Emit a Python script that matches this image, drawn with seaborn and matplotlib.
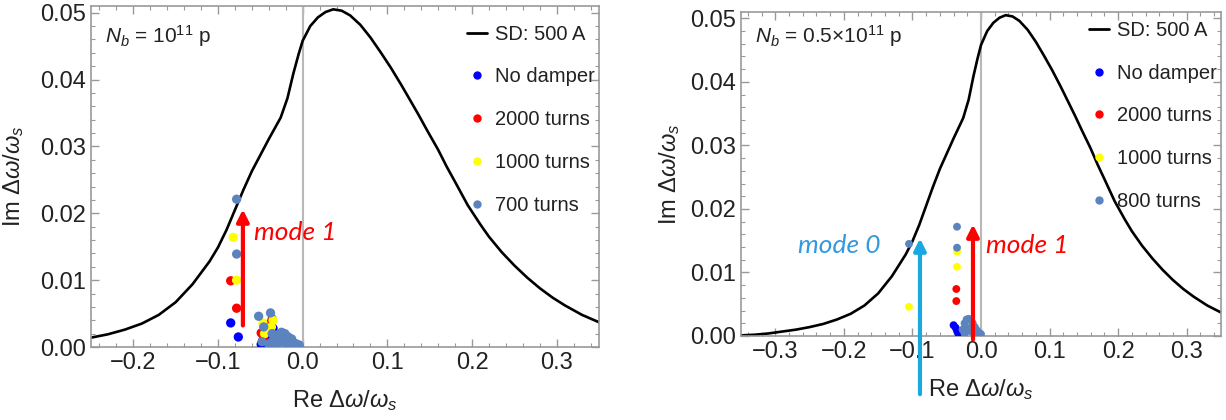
import numpy as np
import pandas as pd
import matplotlib
matplotlib.use("Agg")
import matplotlib.pyplot as plt
from matplotlib.lines import Line2D
from matplotlib.ticker import MultipleLocator
import seaborn as sns

# ---------------- data ----------------
# stability diagram (SD: 500 A)
sd_x = [-0.35, -0.33, -0.31, -0.29, -0.27, -0.25, -0.23, -0.21, -0.19, -0.17,
        -0.15, -0.13, -0.11, -0.10, -0.09, -0.08, -0.07, -0.06, -0.05, -0.04,
        -0.033, -0.026, -0.018, -0.011, -0.005, 0.0, 0.009, 0.018, 0.027, 0.036,
        0.046, 0.056, 0.068, 0.08, 0.092, 0.104, 0.116, 0.127, 0.137, 0.147,
        0.16, 0.17, 0.18, 0.195, 0.21, 0.22, 0.235, 0.25, 0.265, 0.28,
        0.295, 0.31, 0.33, 0.35]
sd_y = [0.0001, 0.0002, 0.0004, 0.0007, 0.0010, 0.0014, 0.0019, 0.0026, 0.0035, 0.0048,
        0.0067, 0.0094, 0.0128, 0.0149, 0.0175, 0.0205, 0.0235, 0.0263, 0.0287, 0.0311,
        0.0327, 0.0343, 0.0372, 0.0409, 0.0437, 0.0458, 0.0480, 0.0493, 0.0501, 0.0505,
        0.0503, 0.0496, 0.0482, 0.0463, 0.0441, 0.0418, 0.0393, 0.0369, 0.0347, 0.0324,
        0.0295, 0.0270, 0.0247, 0.0212, 0.0183, 0.0165, 0.0142, 0.0122, 0.0104, 0.0088,
        0.0074, 0.0062, 0.0048, 0.0037]

series_labels_L = ["No damper", "2000 turns", "1000 turns", "700 turns"]
series_labels_R = ["No damper", "2000 turns", "1000 turns", "800 turns"]

# left panel (N_b = 1e11)
L_nodamp_x = [-0.085, -0.076, -0.049, -0.047, -0.035, -0.040, -0.030]
L_nodamp_y = [0.0036, 0.0015, 0.0004, 0.0010, 0.0028, 0.0015, 0.0006]
L_2000_x = [-0.085, -0.078, -0.049, -0.038, -0.046, -0.036]
L_2000_y = [0.0099, 0.0058, 0.0021, 0.0036, 0.0013, 0.0042]
L_1000_x = [-0.082, -0.078, -0.047, -0.035, -0.045, -0.037]
L_1000_y = [0.0164, 0.0100, 0.0036, 0.0040, 0.0020, 0.0030]
L_700_x = [-0.078, -0.078, -0.052, -0.038, -0.046, -0.048, -0.036,
           -0.040, -0.036, -0.032, -0.028, -0.024, -0.020, -0.016, -0.012, -0.008, -0.004,
           -0.034, -0.030, -0.026, -0.022, -0.018, -0.014, -0.010,
           -0.028, -0.025, -0.021, -0.017, -0.013]
L_700_y = [0.0221, 0.0139, 0.0046, 0.0051, 0.0030, 0.0008, 0.0020,
           0.0004, 0.0008, 0.0013, 0.0019, 0.0021, 0.0016, 0.0012, 0.0008, 0.0005, 0.0003,
           0.0003, 0.0006, 0.0008, 0.0007, 0.0005, 0.0004, 0.0002,
           0.0012, 0.0022, 0.0020, 0.0015, 0.0012]

# right panel (N_b = 0.5e11)
R_nodamp_x = [-0.040, -0.037, -0.035, -0.028, -0.033]
R_nodamp_y = [0.0017, 0.0013, 0.0008, 0.0005, 0.0004]
R_2000_x = [-0.036, -0.036, -0.020]
R_2000_y = [0.0074, 0.0055, 0.0015]
R_1000_x = [-0.105, -0.035, -0.035, -0.022]
R_1000_y = [0.0046, 0.0133, 0.0109, 0.0018]
R_800_x = [-0.105, -0.035, -0.035,
           -0.027, -0.024, -0.021, -0.018, -0.015, -0.012, -0.009, -0.006, -0.003, 0.000,
           -0.024, -0.018, -0.012, -0.006, -0.021, -0.015, -0.009]
R_800_y = [0.0145, 0.0172, 0.0139,
           0.0010, 0.0020, 0.0026, 0.0027, 0.0025, 0.0020, 0.0014, 0.0009, 0.0005, 0.0003,
           0.0004, 0.0008, 0.0006, 0.0003, 0.0013, 0.0012, 0.0004]

x_ticks_L = [-0.2, -0.1, 0.0, 0.1, 0.2, 0.3]
x_ticks_R = [-0.3, -0.2, -0.1, 0.0, 0.1, 0.2, 0.3]
y_ticks = [0.00, 0.01, 0.02, 0.03, 0.04, 0.05]

colors = ["#0000ff", "#ff0000", "#ffff00", "#5b84be"]

# ---------------- style ----------------
sns.set_style("ticks")
plt.rcParams["font.family"] = ["Liberation Sans", "DejaVu Sans"]
plt.rcParams["mathtext.fontset"] = "custom"
plt.rcParams["mathtext.rm"] = "Liberation Sans"
plt.rcParams["mathtext.it"] = "Liberation Sans:italic"

fig = plt.figure(figsize=(12.26, 4.20), dpi=100)
axL = fig.add_axes([91 / 1226, 73 / 420, 508 / 1226, 341 / 420])
axR = fig.add_axes([741 / 1226, 84 / 420, 480 / 1226, 324 / 420])

sd_df = pd.DataFrame({"x": sd_x, "y": sd_y})


def make_points(xs_list, ys_list, labels):
    frames = []
    for xs, ys, lab in zip(xs_list, ys_list, labels):
        frames.append(pd.DataFrame({"x": xs, "y": ys, "series": lab}))
    return pd.concat(frames, ignore_index=True)


ptsL = make_points([L_nodamp_x, L_2000_x, L_1000_x, L_700_x],
                   [L_nodamp_y, L_2000_y, L_1000_y, L_700_y], series_labels_L)
ptsR = make_points([R_nodamp_x, R_2000_x, R_1000_x, R_800_x],
                   [R_nodamp_y, R_2000_y, R_1000_y, R_800_y], series_labels_R)


def style_axes(ax, xlim, xticks, ylabelpad):
    ax.set_xlim(*xlim)
    ax.set_ylim(0, 0.051)
    ax.set_xticks(xticks)
    ax.set_yticks(y_ticks)
    ax.xaxis.set_minor_locator(MultipleLocator(0.02))
    ax.yaxis.set_minor_locator(MultipleLocator(0.002))
    ax.set_xticklabels([f"{t:.1f}".replace("-", "\u2212") for t in xticks])
    ax.set_yticklabels([f"{t:.2f}" for t in y_ticks])
    ax.tick_params(which="both", direction="in", top=True, right=True,
                   color="#999999", labelsize=17, labelcolor="#222222")
    ax.tick_params(which="major", length=6, width=1)
    ax.tick_params(which="minor", length=3, width=0.8)
    for s in ax.spines.values():
        s.set_color("#999999")
        s.set_linewidth(1.2)
    ax.axvline(0.0, color="#b8b8b8", lw=1.5, zorder=1)
    ax.set_xlabel(r"Re $\Delta\omega/\omega_s$", fontsize=17, color="#222222", labelpad=10)
    ax.set_ylabel(r"Im $\Delta\omega/\omega_s$", fontsize=17, color="#222222",
                  labelpad=ylabelpad)


def draw(ax, pts, labels, msize, leg_top):
    sns.lineplot(data=sd_df, x="x", y="y", ax=ax, color="black", lw=1.9,
                 sort=False, zorder=2, legend=False)
    sns.scatterplot(data=pts, x="x", y="y", hue="series", hue_order=labels,
                    palette=colors, s=msize, linewidth=0, ax=ax, zorder=3,
                    legend=False)
    handles = [Line2D([], [], color="black", lw=2.0)]
    handles += [Line2D([], [], marker="o", ls="", color=c, ms=5) for c in colors]
    ax.legend(handles, ["SD: 500 A"] + labels, loc="upper right",
              bbox_to_anchor=(1.0, leg_top), frameon=False, fontsize=14.5,
              labelspacing=1.18, handlelength=1.0, handletextpad=0.4,
              borderpad=0.2, borderaxespad=0.0, labelcolor="#222222")


style_axes(axL, (-0.25, 0.35), x_ticks_L, 10)
style_axes(axR, (-0.35, 0.35), x_ticks_R, 6)
draw(axL, ptsL, series_labels_L, 45, 0.957)
draw(axR, ptsR, series_labels_R, 32, 0.985)

axL.text(-0.233, 0.0465, r"$N_b$ = 10$^{11}$ p", fontsize=15, color="#222222", va="center")
axR.text(-0.33, 0.0472, r"$N_b$ = 0.5×10$^{11}$ p", fontsize=15, color="#222222", va="center")

# annotation arrows and labels
red = "#ff0000"
cyan = "#1aa8e0"
axL.annotate("", xy=(-0.0706, 0.0210), xytext=(-0.0706, 0.0028),
             arrowprops=dict(arrowstyle="-|>,head_width=0.35,head_length=0.7",
                             color=red, lw=3), zorder=4)
axL.text(-0.057, 0.0171, "mode 1", color=red, fontsize=19, fontstyle="italic",
         family="Lato", va="center", ha="left")

axR.annotate("", xy=(-0.0117, 0.0180), xytext=(-0.0117, -0.0010),
             arrowprops=dict(arrowstyle="-|>,head_width=0.35,head_length=0.7",
                             color=red, lw=3), zorder=4, annotation_clip=False)
axR.text(0.008, 0.0143, "mode 1", color=red, fontsize=19, fontstyle="italic",
         family="Lato", va="center", ha="left")

axR.annotate("", xy=(-0.089, 0.0158), xytext=(-0.089, -0.0096),
             arrowprops=dict(arrowstyle="-|>,head_width=0.35,head_length=0.7",
                             color=cyan, lw=3, clip_on=False),
             zorder=4, annotation_clip=False)
axR.text(-0.146, 0.0143, "mode 0", color="#3399dd", fontsize=19, fontstyle="italic",
         family="Lato", va="center", ha="right")

fig.savefig("out.png", dpi=100)
